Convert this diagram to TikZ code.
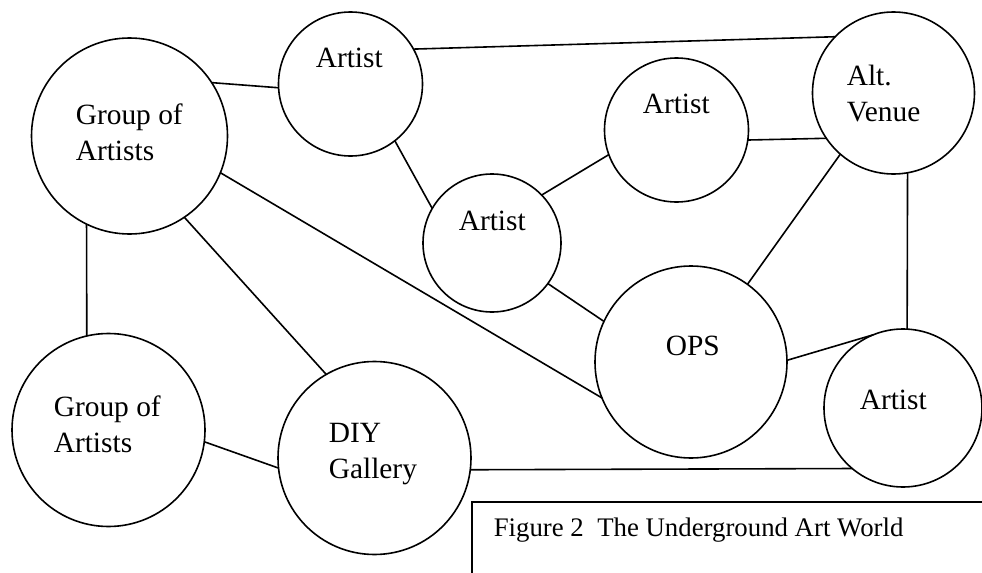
\documentclass[tikz,border=0pt]{standalone}
\usepackage{fontspec}
\setmainfont{Liberation Serif}
\usepackage{tikz}
\usetikzlibrary{positioning,calc}

\begin{document}
\begin{tikzpicture}[x = .5pt, y = -.5pt,
    circ/.style = {draw, circle, inner sep = 0pt, outer sep = 0pt, line width = .8pt},
    lbl/.style = {anchor = base west, inner sep = 0pt, align = left, font = \fontsize{14.7}{17.8}\selectfont},
    every path/.style = {line width = .8pt}]
    \useasboundingbox (0,0) rectangle (982,573);
    \node[circ, minimum size = 98pt] (ga) at (129.5,136) {};
    \node[circ, minimum size = 72pt] (a1) at (350.5,84) {};
    \node[circ, minimum size = 69pt] (a2) at (492,243) {};
    \node[circ, minimum size = 72pt] (a3) at (676.5,130) {};
    \node[circ, minimum size = 81pt] (alt) at (893.5,93) {};
    \node[circ, minimum size = 96pt] (ops) at (691,362) {};
    \node[circ, minimum size = 79pt] (a4) at (903,408) {};
    \node[circ, minimum size = 96.5pt] (gb) at (108.5,430) {};
    \node[circ, minimum size = 96.5pt] (diy) at (374.5,458) {};
    \draw (ga.33) -- (a1.183);
    \draw (a1.29) -- (alt.136);
    \draw (a1.-52) -- (a2.150);
    \draw (ga.-22) -- (ops.202);
    \draw (ga.-56) -- (diy.120);
    \draw (ga.-116) -- (gb.103);
    \draw (a2.44) -- (a3.200);
    \draw (a3.-8) -- (alt.214);
    \draw (alt.229) -- (ops.54);
    \draw (alt.-80) -- (a4.87);
    \draw (a2.-36) -- (ops.155);
    \draw (ops.1) -- (a4.112);
    \draw (diy.-7) -- (a4.230);
    \draw (gb.-7) -- (diy.186);
        % Labels
    \node[lbl] (gat) at (75,160) {Group of\\Artists};
    \node[lbl] (a1t) at (315,68) {Artist};
    \node[lbl] (a2t) at (458,230) {Artist};
    \node[lbl] (a3t) at (642,113) {Artist};
    \node[lbl] (altt) at (846,121) {Alt.\\Venue};
    \node[lbl] (opst) at (665,355) {OPS};
    \node[lbl] (a4t) at (859,409) {Artist};
    \node[lbl] (gbt) at (53,452) {Group of\\Artists};
    \node[lbl] (diyt) at (328,478) {DIY\\Gallery};
        % Caption box
    \draw (472,575) |- (984,502);
    \node[lbl, font = \fontsize{13.4}{15}\selectfont] (cap) at (493,536) {Figure 2\ \ The Underground Art World};
\end{tikzpicture}
\end{document}
